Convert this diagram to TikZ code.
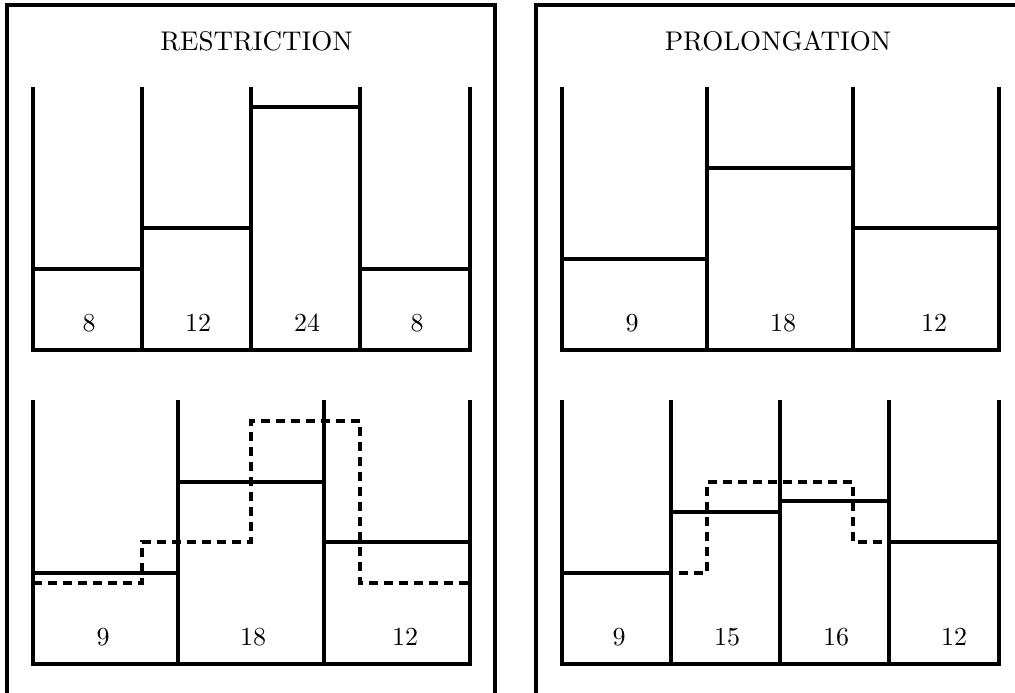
\documentclass[tikz,border=0pt]{standalone}
\usepackage{fontspec}
\newfontfamily\tenfont{lmroman10-regular.otf}
\begin{document}
\begin{tikzpicture}[x=1pt,y=-1pt,
  frame/.style={line width=4pt},
  bar/.style={line width=3.6pt},
  dashbar/.style={line width=3.6pt, dash pattern=on 9pt off 6pt},
  lbl/.style={anchor=base, inner sep=0pt, font=\tenfont\fontsize{26}{30}\selectfont},
  ttl/.style={anchor=base, inner sep=0pt, font=\tenfont\fontsize{27}{30}\selectfont}]
\useasboundingbox (0,0) rectangle (1015,693);
% frames
\draw[frame] (7,693) -- (7,5) -- (495,5) -- (495,693);
\draw[frame] (536,693) -- (536,5) -- (1015,5);
\node[ttl] (t1) at (256.5,51) {RESTRICTION};
\node[ttl] (t2) at (778,51) {PROLONGATION};
% left top
\draw[bar] (33,87) -- (33,350) -- (470,350) -- (470,87);
\foreach \x in {142,251,360} \draw[bar] (\x,87) -- (\x,350);
\draw[bar] (33,269) -- (142,269);
\draw[bar] (142,228) -- (251,228);
\draw[bar] (251,107) -- (360,107);
\draw[bar] (360,269) -- (470,269);
\node[lbl] (a1) at (89,331) {8};
\node[lbl] (a2) at (198,331) {12};
\node[lbl] (a3) at (307,331) {24};
\node[lbl] (a4) at (417,331) {8};
% left bottom
\draw[bar] (33,400) -- (33,664) -- (470,664) -- (470,400);
\foreach \x in {178,324} \draw[bar] (\x,400) -- (\x,664);
\draw[bar] (33,573) -- (178,573);
\draw[bar] (178,482) -- (324,482);
\draw[bar] (324,542) -- (470,542);
\draw[dashbar] (33,583) -- (142,583) -- (142,542) -- (251,542) -- (251,421) -- (360,421) -- (360,583) -- (470,583);
\node[lbl] (b1) at (103,645) {9};
\node[lbl] (b2) at (253,645) {18};
\node[lbl] (b3) at (405,645) {12};
% right top
\draw[bar] (562,87) -- (562,350) -- (999,350) -- (999,87);
\foreach \x in {707,853} \draw[bar] (\x,87) -- (\x,350);
\draw[bar] (562,259) -- (707,259);
\draw[bar] (707,168) -- (853,168);
\draw[bar] (853,228) -- (999,228);
\node[lbl] (c1) at (632,331) {9};
\node[lbl] (c2) at (783,331) {18};
\node[lbl] (c3) at (934,331) {12};
% right bottom
\draw[bar] (562,400) -- (562,664) -- (999,664) -- (999,400);
\foreach \x in {671,780,889} \draw[bar] (\x,400) -- (\x,664);
\draw[bar] (562,573) -- (671,573);
\draw[bar] (671,512) -- (780,512);
\draw[bar] (780,501) -- (889,501);
\draw[bar] (889,542) -- (999,542);
\draw[dashbar] (679,573) -- (707,573) -- (707,482) -- (853,482) -- (853,542) -- (889,542);
\node[lbl] (d1) at (619,645) {9};
\node[lbl] (d2) at (727,645) {15};
\node[lbl] (d3) at (836,645) {16};
\node[lbl] (d4) at (954,645) {12};
\end{tikzpicture}
\end{document}
